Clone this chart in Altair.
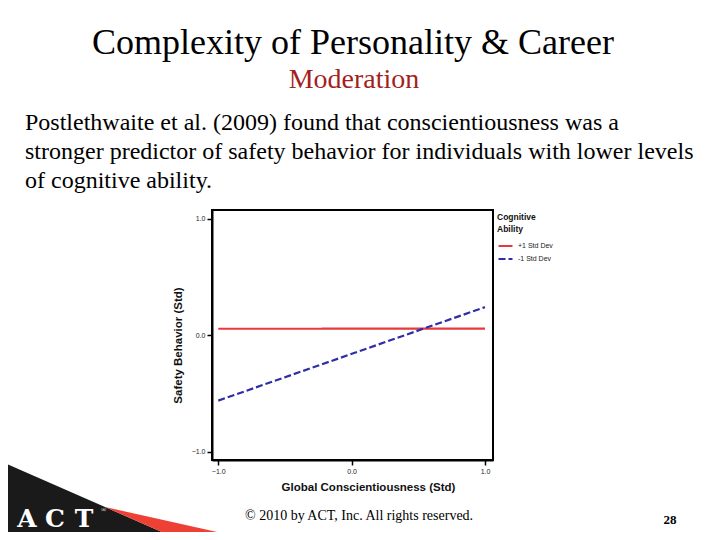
import altair as alt
import pandas as pd

# ---- data ----
conscientiousness = [-1.0, 1.0]
high_ability = [0.057, 0.058]      # +1 Std Dev cognitive ability
low_ability = [-0.56, 0.243]       # -1 Std Dev cognitive ability
series_names = ["+1 Std Dev", "-1 Std Dev"]
series_colors = ["#E8383D", "#2E2EA8"]
series_dashes = [[1, 0], [7, 3]]
x_ticks = [-1.0, 0.0, 1.0]
y_ticks = [-1.0, 0.0, 1.0]

title_text = "Complexity of Personality & Career"
subtitle_text = "Moderation"
body_lines = [
    "Postlethwaite et al. (2009) found that conscientiousness was a",
    "stronger predictor of safety behavior for individuals with lower levels",
    "of cognitive ability.",
]
footer_text = "\u00a9 2010 by ACT, Inc. All rights reserved."
page_number = "28"
logo_letters = ["A", "C", "T"]

rows = []
for xv, yv in zip(conscientiousness, high_ability):
    rows.append({"x": xv, "y": yv, "s": series_names[0]})
for xv, yv in zip(conscientiousness, low_ability):
    rows.append({"x": xv, "y": yv, "s": series_names[1]})
df = pd.DataFrame(rows)

SANS = "Liberation Sans"
SERIF = "Liberation Serif"

leg = alt.Legend(
    title=["Cognitive", "Ability"],
    orient="none", legendX=285, legendY=3,
    symbolType="stroke", symbolSize=196, symbolStrokeWidth=2.2,
    titleFont=SANS, titleFontSize=8.5, titleFontWeight="bold", titleColor="#111",
    titleLineHeight=12, titlePadding=4,
    labelFont=SANS, labelFontSize=7, labelColor="#222", labelOffset=4,
    rowPadding=0, padding=0,
)

lines = alt.Chart(df).mark_line(clip=False).encode(
    x=alt.X("x:Q",
            scale=alt.Scale(domain=[-1.047, 1.06], nice=False, zero=False),
            axis=alt.Axis(values=x_ticks, format=".1f",
                          title="Global Conscientiousness (Std)",
                          titleX=156, titleY=27, titleBaseline="middle",
                          titleAlign="center")),
    y=alt.Y("y:Q",
            scale=alt.Scale(domain=[-1.07, 1.077], nice=False, zero=False),
            axis=alt.Axis(values=y_ticks, format=".1f",
                          title="Safety Behavior (Std)",
                          titleX=-34, titleY=135, titleBaseline="middle",
                          titleAlign="center")),
    color=alt.Color("s:N", scale=alt.Scale(domain=series_names, range=series_colors), legend=leg),
    strokeDash=alt.StrokeDash("s:N", scale=alt.Scale(domain=series_names, range=series_dashes), legend=leg),
    strokeWidth=alt.value(2.2),
)


def label(text, x, y, size, color="black", font=SERIF, weight="normal", align="left"):
    return alt.Chart(pd.DataFrame({"t": [text]})).mark_text(
        align=align, baseline="alphabetic", fontSize=size, font=font,
        fontWeight=weight, color=color,
    ).encode(x=alt.value(x), y=alt.value(y), text="t:N")


def poly(path, x, y, color):
    return alt.Chart(pd.DataFrame({"k": [0]})).mark_point(
        shape=path, size=4, filled=True, color=color, opacity=1, strokeWidth=0,
    ).encode(x=alt.value(x), y=alt.value(y))


# page coordinate -> plot coordinate: x - 212, y - 210
layers = [
    poly("M0,0 L105,46 L180,79 L0,79 Z", -212, 251, "#1a1a1a"),
    poly("M0,0 L148,33 L75,33 Z", -107, 297, "#EE4035"),
    lines,
    label(title_text, 141, -156, 36, align="center"),
    label(subtitle_text, 142, -122, 28, color="#A31F1F", align="center"),
    label(body_lines[0], -187, -80, 24),
    label(body_lines[1], -187, -51, 24),
    label(body_lines[2], -187, -22, 24),
    label(footer_text, 33, 310, 14),
    label(page_number, 458, 314, 13, weight="bold", align="center"),
    label("\u00ae", -111, 302, 7, color="white"),
]
for letter, lx in zip(logo_letters, [-185, -157, -128]):
    layers.append(label(letter, lx, 317, 25, color="white", font="DejaVu Serif",
                        weight="bold", align="center"))

chart = alt.layer(*layers).properties(
    width=281, height=250,
    padding={"left": 204, "top": 202, "right": 219, "bottom": 72},
    autosize=alt.AutoSizeParams(type="none"),
    background="white",
).configure_view(
    stroke="black", strokeWidth=2,
).configure_axis(
    grid=False, domainColor="black", domainWidth=2,
    tickColor="black", tickWidth=1.5, tickSize=5,
    labelFont=SANS, labelFontSize=7, labelColor="#222", labelPadding=2,
    titleFont=SANS, titleFontSize=11.5, titleFontWeight="bold", titleColor="#111",
)

chart.save("out.html", embed_options={"renderer": "svg", "actions": False})
